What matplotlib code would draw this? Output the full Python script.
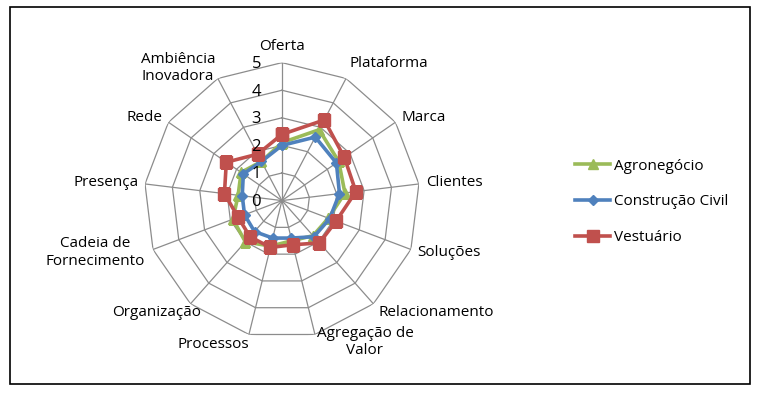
"""
Radar chart of innovation dimensions for three sectors.
"""
import numpy as np
import matplotlib.pyplot as plt
from matplotlib.patches import Rectangle

categories = ['Oferta', 'Plataforma', 'Marca', 'Clientes', 'Soluções',
              'Relacionamento', 'Agregação de\nValor', 'Processos',
              'Organização', 'Cadeia de\nFornecimento', 'Presença', 'Rede',
              'Ambiência\nInovadora']
agro = [2.1, 2.9, 2.5, 2.3, 1.8, 1.7, 1.5, 1.7, 2.0, 1.9, 1.6, 1.8, 1.6]
construcao = [2.0, 2.6, 2.4, 2.1, 1.85, 1.75, 1.4, 1.4, 1.5, 1.45, 1.45,
              1.7, 1.6]
vestuario = [2.4, 3.3, 2.75, 2.7, 2.1, 2.05, 1.65, 1.75, 1.75, 1.7, 2.1,
             2.45, 1.9]
series_names = ['Agronegócio', 'Construção Civil', 'Vestuário']
ring_ticks = [0, 1, 2, 3, 4, 5]

plt.rcParams['font.family'] = ['Open Sans', 'DejaVu Sans']
plt.rcParams['font.size'] = 11

fig = plt.figure(figsize=(7.62, 3.96), dpi=100)

# Outer frame of the chart area.
fig.patches.append(Rectangle((10 / 762, 12 / 396), 740 / 762, 377 / 396,
                             transform=fig.transFigure, fill=False,
                             edgecolor='black', linewidth=1.2))

ax = fig.add_axes([0.189, 0.145, 0.362, 0.697], projection='polar')
ax.set_theta_zero_location('N')
ax.set_theta_direction(-1)
ax.set_ylim(0, 5)
ax.grid(False)
ax.set_xticks([])
ax.set_yticks([])
ax.spines['polar'].set_visible(False)

n = len(categories)
theta = np.arange(n) * 2 * np.pi / n
theta_closed = np.append(theta, theta[0])

# Polygonal grid and spokes.
grid_col = '#8c8c8c'
for r in ring_ticks[1:]:
    ax.plot(theta_closed, [r] * (n + 1), color=grid_col, lw=0.9, zorder=1)
for t in theta:
    ax.plot([t, t], [0, 5], color=grid_col, lw=0.9, zorder=1)

# Ring labels along the first spoke.
for r in ring_ticks:
    ax.annotate(str(r), xy=(0, r), xytext=(-15, -1),
                textcoords='offset points', ha='right', va='center',
                fontsize=12, zorder=5)

styles = [
    (agro, '#9bbb59', '^', 7),
    (construcao, '#4f81bd', 'D', 5),
    (vestuario, '#c0504d', 's', 8),
]
for (vals, col, mk, ms), name in zip(styles, series_names):
    v = np.append(vals, vals[0])
    ax.plot(theta_closed, v, color=col, lw=2.6, marker=mk, markersize=ms,
            label=name, zorder=3)

# Category labels just outside the outer ring.
for t, lab in zip(theta, categories):
    s, c = np.sin(t), np.cos(t)
    if abs(s) < 0.05:
        ha = 'center'
    elif s > 0:
        ha = 'left'
    else:
        ha = 'right'
    if c > 0.8:
        va = 'bottom'
    elif c < -0.8:
        va = 'top'
    else:
        va = 'center'
    dx = 5 * s
    dy = 6 * c
    if lab.startswith('Ambi'):
        ha, va, dx, dy = 'right', 'bottom', -2, -4
    elif lab.startswith('Agrega'):
        ha, va, dx, dy = 'center', 'top', 36, 6
    elif lab == 'Processos':
        ha, va, dx, dy = 'right', 'top', 0, -2
    elif lab == 'Relacionamento':
        dy = -6
    elif lab == 'Organização':
        dx, dy = 8, -6
    elif lab.startswith('Cadeia'):
        dx = -6
    ax.annotate(lab, xy=(t, 5), xytext=(dx, dy), textcoords='offset points',
                ha=ha, va=va, multialignment='center', fontsize=11)

fig.legend(loc='center left', bbox_to_anchor=(0.737, 0.49), frameon=False,
           labelspacing=1.35, handlelength=2.3, handletextpad=0.2,
           fontsize=11)

fig.savefig('out.png', dpi=100)
